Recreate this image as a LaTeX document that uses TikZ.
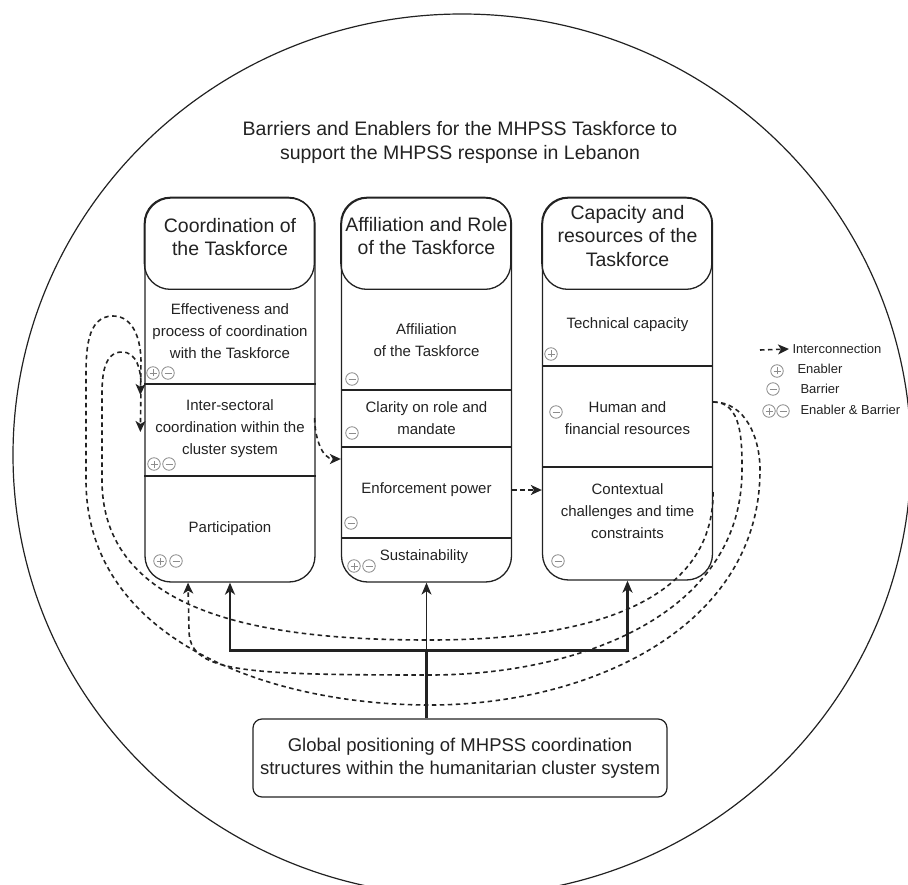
\documentclass[tikz,border=0pt]{standalone}
\usepackage{fontspec}
\setmainfont{Liberation Sans}
\usetikzlibrary{arrows.meta, positioning, calc}
\definecolor{ink}{RGB}{34, 34, 34}
\definecolor{markgray}{RGB}{140, 140, 140}

\begin{document}
\begin{tikzpicture}[
    x=1pt, y=-1pt,
    rim/.style={draw=ink, line width=1.2pt},
    ttl/.style={font=\fontsize{19.5}{24}\selectfont,
                align=center, text=ink},
    hd/.style={font=\fontsize{19.5}{23.5}\selectfont,
               align=center, text=ink},
    body/.style={font=\fontsize{15}{22}\selectfont,
                 align=center, text=ink},
    colbox/.style={draw=ink, line width=1.3pt,
                   rounded corners=26pt,
                   minimum width=170pt, inner sep=0pt},
    hdline/.style={draw=ink, line width=1.3pt,
                   rounded corners=26pt},
    divider/.style={draw=ink, line width=2.3pt},
    mk/.style={circle, draw=markgray, line width=0.8pt,
               minimum size=12.5pt, inner sep=0pt},
    enab/.style={mk, path picture={
        \draw[markgray, line width=0.8pt]
            ([xshift=-3.5pt]path picture bounding box.center) --
            ([xshift=3.5pt]path picture bounding box.center)
            ([yshift=-3.5pt]path picture bounding box.center) --
            ([yshift=3.5pt]path picture bounding box.center);}},
    barr/.style={mk, path picture={
        \draw[markgray, line width=0.8pt]
            ([xshift=-3.5pt]path picture bounding box.center) --
            ([xshift=3.5pt]path picture bounding box.center);}},
    dashlink/.style={draw=ink, line width=1.6pt,
                     dash pattern=on 4.5pt off 3.5pt,
                     -{Stealth[length=11pt, width=10pt, inset=3pt]}},
    trunk/.style={draw=ink, line width=2.6pt},
    uparr/.style={-{Stealth[length=12pt, width=10pt, inset=3.5pt]}},
    thinarr/.style={draw=ink, line width=1.1pt,
                    -{Stealth[length=12pt, width=10pt, inset=3.5pt]}},
    glob/.style={draw=ink, line width=1.2pt, rounded corners=9pt,
                 minimum width=414pt, minimum height=78pt,
                 font=\fontsize{18.5}{23}\selectfont,
                 align=center, text=ink},
    lgtxt/.style={font=\fontsize{13}{15}\selectfont,
                  text=ink, anchor=west},
]
\useasboundingbox (0,0) rectangle (908,885);

% -- Outer frame and title -------------------
\draw[rim] (462,455) ellipse [x radius=449pt, y radius=441pt];
\node[ttl] (title) at (460,142)
    {Barriers and Enablers for the MHPSS Taskforce to\\
     support the MHPSS response in Lebanon};

% -- Columns ---------------------------------
\node[colbox, minimum height=384pt] (col1) at (230,390) {};
\node[colbox, minimum height=384pt] (col2) at (426.5,390) {};
\node[colbox, minimum height=382pt] (col3) at (627.5,389) {};

\draw[hdline] (col1.north west) rectangle ++(170,92);
\draw[hdline] (col2.north west) rectangle ++(170,92);
\draw[hdline] (col3.north west) rectangle ++(170,92);

\node[hd] (hd1) at (230,237) {Coordination of\\the Taskforce};
\node[hd] (hd2) at (426.5,236) {Affiliation and Role\\of the Taskforce};
\node[hd] (hd3) at (627.5,236) {Capacity and\\resources of the\\Taskforce};

% -- Section dividers ------------------------
\draw[divider] (col1.west |- 0,384) -- (col1.east |- 0,384);
\draw[divider] (col1.west |- 0,476) -- (col1.east |- 0,476);
\draw[divider] (col2.west |- 0,390) -- (col2.east |- 0,390);
\draw[divider] (col2.west |- 0,447) -- (col2.east |- 0,447);
\draw[divider] (col2.west |- 0,538) -- (col2.east |- 0,538);
\draw[divider] (col3.west |- 0,366) -- (col3.east |- 0,366);
\draw[divider] (col3.west |- 0,467) -- (col3.east |- 0,467);

% -- Section texts ---------------------------
\node[body] (eff)   at (230,331)
    {Effectiveness and\\process of coordination\\with the Taskforce};
\node[body] (inter) at (230,429)
    {Inter-sectoral\\coordination within the\\cluster system};
\node[body] (part)  at (230,529) {Participation};
\node[body] (affil) at (426.5,340) {Affiliation\\of the Taskforce};
\node[body] (clar)  at (426.5,418) {Clarity on role and\\mandate};
\node[body] (enf)   at (426.5,490) {Enforcement power};
\node[body] (sust)  at (424,557) {Sustainability};
\node[body] (tech)  at (627.5,325) {Technical capacity};
\node[body] (human) at (627.5,418) {Human and\\financial resources};
\node[body] (ctx)   at (627.5,511)
    {Contextual\\challenges and time\\constraints};

% -- Enabler / barrier marks -----------------
\node[enab] (eff-e) at (153,373) {};
\node[barr] (eff-b) at (168,373) {};
\node[enab] (int-e) at (154,464) {};
\node[barr] (int-b) at (169,464) {};
\node[enab] (par-e) at (160,561) {};
\node[barr] (par-b) at (176,561) {};
\node[barr] (aff-b) at (352,379) {};
\node[barr] (cla-b) at (352,433) {};
\node[barr] (enf-b) at (351,523) {};
\node[enab] (sus-e) at (354,566) {};
\node[barr] (sus-b) at (369,566) {};
\node[enab] (tec-e) at (551,354) {};
\node[barr] (hum-b) at (556,412) {};
\node[barr] (ctx-b) at (558,561) {};

% -- Global positioning box ------------------
\node[glob] (global) at (460,758)
    {Global positioning of MHPSS coordination\\
     structures within the humanitarian cluster system};

% -- Solid links from the global box ---------
\coordinate (hub) at ($(col2.south)!0.5!(col2.south |- global.north)$);
\draw[trunk] (col2.south |- global.north) -- (hub);
\draw[trunk, uparr] (hub) -| (col1.south);
\draw[trunk, uparr] (hub) -| (col3.south);
\draw[thinarr] (hub) -- (col2.south);

% -- Interconnections ------------------------
\draw[dashlink] ($(col1.east |- inter)+(-1,-11)$)
    to[out=-90, in=180] ($(col2.west |- enf)+(0,-31)$);
\draw[dashlink] (col2.east |- enf) -- (col3.west |- enf);

% contextual -> inter-sectoral (inner loop)
\draw[dashlink] ($(col3.east |- ctx)+(0,-19)$)
    to[out=-90, in=0] (430,640)
    to[out=180, in=-90] (102,480)
    -- (102,395)
    to[out=90, in=180] (122,352)
    to[out=0, in=90] (141,385)
    -- ($(col1.west |- inter)+(-4,3)$);

% human resources -> inter-sectoral (outer loop)
\draw[dashlink] ($(col3.east |- human)+(0,-16)$)
    to[out=0, in=90] (760,470)
    to[out=-90, in=0] (430,705)
    to[out=180, in=-90] (86,480)
    -- (86,380)
    to[out=90, in=180] (113,316)
    to[out=0, in=90] (141,362)
    -- ($(col1.west |- inter)+(-4,-34)$);

% human resources -> participation
\draw[dashlink] ($(col3.east |- human)+(0,-16)$)
    to[out=0, in=90] (742,470)
    to[out=-90, in=0] (430,675)
    .. controls (240,675) and (189,672) .. (189,630)
    -- ($(col1.south)+(-42,0)$);

% -- Legend ----------------------------------
\node[lgtxt] (lg-ic) at (789,349) {Interconnection};
\coordinate (lgtail) at (760,350);
\draw[dashlink] (lgtail) -- (lg-ic.west);
\node[enab] (lg-e) at (777,371) {};
\node[lgtxt] (lg-et) at (794,369) {Enabler};
\node[barr] (lg-b) at (773,389) {};
\node[lgtxt] (lg-bt) at (797,389) {Barrier};
\node[enab] (lg-eb1) at (769,411) {};
\node[barr] (lg-eb2) at (783,411) {};
\node[lgtxt] (lg-ebt) at (797,410) {Enabler \& Barrier};

\end{tikzpicture}
\end{document}
